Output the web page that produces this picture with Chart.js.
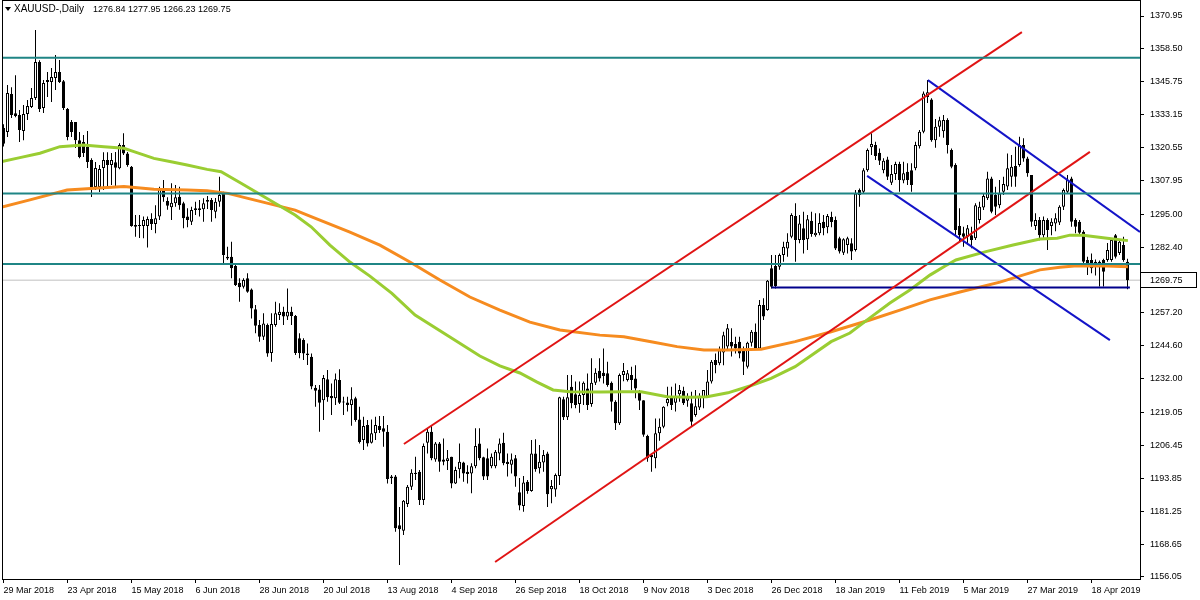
<!DOCTYPE html>
<html>
<head>
<meta charset="utf-8">
<script src="https://cdn.jsdelivr.net/npm/chart.js@4.4.1/dist/chart.umd.min.js"></script>
<style>
  html, body { margin: 0; padding: 0; background: #fff; }
  canvas { display: block; }
</style>
</head>
<body>
<canvas id="chart" width="1200" height="600"></canvas>
<script>
// header text
const symbolName = 'XAUUSD-,Daily';
const lastQuote = ['1276.84', '1277.95', '1266.23', '1269.75'];

// x axis: bar index of each date label
const dateLabels = ['29 Mar 2018', '23 Apr 2018', '15 May 2018', '6 Jun 2018', '28 Jun 2018', '20 Jul 2018',
  '13 Aug 2018', '4 Sep 2018', '26 Sep 2018', '18 Oct 2018', '9 Nov 2018', '3 Dec 2018', '26 Dec 2018',
  '18 Jan 2019', '11 Feb 2019', '5 Mar 2019', '27 Mar 2019', '18 Apr 2019'];
const dateTickBars = [0, 16, 32, 48, 64, 80, 96, 112, 128, 144, 160, 176, 192, 208, 224, 240, 256, 272];

// y axis labels
const priceTicks = [1370.95, 1358.50, 1345.75, 1333.15, 1320.55, 1307.95, 1295.00, 1282.40,
  1257.20, 1244.60, 1232.00, 1219.05, 1206.45, 1193.85, 1181.25, 1168.65, 1156.05];
const bidPrice = 1269.75;

// daily candles
const opens = [
  1328.0, 1326.5, 1341.1, 1333.7, 1333.0, 1326.9, 1333.4, 1336.1, 1339.5, 1353.3,
  1335.7, 1345.7, 1345.7, 1347.2, 1349.5, 1346.0, 1335.3, 1330.3, 1330.3, 1323.4,
  1322.7, 1320.8, 1315.8, 1305.4, 1305.4, 1312.7, 1315.8, 1313.9, 1314.9, 1312.6,
  1321.5, 1318.3, 1313.2, 1290.9, 1290.5, 1290.5, 1290.5, 1293.2, 1291.3, 1294.1,
  1304.3, 1300.1, 1297.7, 1299.2, 1301.7, 1299.2, 1294.1, 1292.1, 1297.3, 1296.6,
  1296.9, 1299.8, 1300.5, 1296.0, 1299.8, 1303.0, 1278.7, 1278.7, 1275.2, 1268.8,
  1267.2, 1270.5, 1266.2, 1258.6, 1252.6, 1248.1, 1252.6, 1241.9, 1252.6, 1256.4,
  1257.7, 1255.8, 1257.7, 1256.0, 1247.5, 1246.8, 1241.7, 1240.4, 1228.5, 1227.9,
  1223.8, 1231.8, 1225.4, 1224.5, 1231.5, 1223.3, 1222.9, 1221.9, 1224.5, 1216.4,
  1208.5, 1214.3, 1207.5, 1211.1, 1213.9, 1213.0, 1211.7, 1194.5, 1194.5, 1175.9,
  1173.8, 1184.0, 1190.6, 1195.5, 1196.4, 1185.5, 1207.5, 1211.7, 1201.1, 1207.2,
  1201.1, 1200.5, 1202.1, 1191.9, 1197.3, 1199.9, 1196.4, 1195.7, 1198.5, 1207.2,
  1201.9, 1201.5, 1198.5, 1198.5, 1203.4, 1207.5, 1200.2, 1199.0, 1201.5, 1188.5,
  1183.2, 1192.5, 1189.0, 1203.4, 1197.7, 1199.9, 1203.4, 1189.7, 1189.6, 1194.7,
  1224.1, 1217.2, 1228.9, 1226.1, 1222.3, 1225.8, 1228.3, 1222.3, 1230.5, 1235.1,
  1234.3, 1234.1, 1230.5, 1223.2, 1214.9, 1233.4, 1231.5, 1233.4, 1232.1, 1227.0,
  1223.8, 1210.1, 1202.8, 1201.5, 1211.1, 1213.6, 1222.6, 1224.9, 1222.8, 1226.1,
  1227.4, 1223.6, 1222.6, 1218.1, 1221.0, 1224.9, 1225.1, 1230.9, 1239.2, 1237.9,
  1242.0, 1244.3, 1246.1, 1245.3, 1246.2, 1243.0, 1236.6, 1245.8, 1250.0, 1243.6,
  1260.2, 1258.3, 1274.3, 1275.2, 1274.9, 1279.4, 1281.9, 1286.4, 1294.3, 1285.1,
  1289.6, 1285.4, 1292.5, 1287.0, 1287.7, 1292.1, 1290.0, 1294.0, 1292.8, 1285.8,
  1280.3, 1283.2, 1283.9, 1281.3, 1304.3, 1303.6, 1311.9, 1320.7, 1321.5, 1318.6,
  1311.9, 1316.0, 1307.1, 1310.4, 1314.3, 1307.9, 1311.3, 1311.9, 1312.6, 1321.1,
  1326.6, 1339.9, 1339.0, 1323.4, 1328.5, 1326.8, 1331.1, 1319.6, 1313.9, 1290.5,
  1287.7, 1286.4, 1287.0, 1285.8, 1292.8, 1297.6, 1301.1, 1308.7, 1302.4, 1298.5,
  1303.6, 1305.6, 1309.4, 1313.5, 1313.9, 1321.5, 1316.4, 1310.0, 1290.5, 1292.8,
  1287.0, 1292.8, 1290.5, 1291.5, 1291.8, 1297.9, 1303.6, 1308.7, 1292.8, 1292.1,
  1288.3, 1277.5, 1277.5, 1276.8, 1276.8, 1277.5, 1277.5, 1277.5, 1287.0, 1280.2,
  1283.2, 1276.84
];
const highs = [
  1329.5, 1344.5, 1343.7, 1348.3, 1334.9, 1336.9, 1338.8, 1343.4, 1365.6, 1354.0,
  1346.4, 1349.5, 1351.0, 1356.0, 1354.1, 1346.4, 1335.7, 1331.1, 1330.3, 1326.5,
  1325.4, 1326.9, 1316.5, 1315.0, 1313.9, 1318.8, 1318.8, 1318.5, 1318.9, 1322.2,
  1326.0, 1318.9, 1313.5, 1294.7, 1294.7, 1294.1, 1294.1, 1295.4, 1298.5, 1305.5,
  1308.1, 1301.5, 1306.9, 1306.2, 1305.5, 1299.8, 1297.3, 1297.9, 1299.8, 1300.5,
  1301.1, 1302.0, 1301.2, 1301.2, 1309.4, 1303.6, 1282.6, 1284.5, 1276.2, 1270.5,
  1270.5, 1272.4, 1266.6, 1260.2, 1254.5, 1257.1, 1253.2, 1257.1, 1261.5, 1260.9,
  1259.6, 1266.6, 1259.6, 1256.4, 1249.4, 1247.5, 1245.5, 1241.7, 1229.6, 1229.6,
  1233.4, 1235.3, 1230.2, 1234.0, 1235.6, 1225.1, 1225.1, 1228.7, 1225.1, 1221.3,
  1217.4, 1216.2, 1216.4, 1217.4, 1217.7, 1217.7, 1214.3, 1195.1, 1195.1, 1182.9,
  1185.5, 1191.3, 1197.3, 1202.1, 1197.0, 1207.2, 1213.0, 1214.3, 1207.8, 1207.8,
  1209.1, 1204.7, 1202.1, 1198.3, 1207.2, 1200.2, 1198.9, 1199.6, 1213.0, 1213.0,
  1202.1, 1205.3, 1203.4, 1204.7, 1209.1, 1211.3, 1203.4, 1203.4, 1202.8, 1194.0,
  1194.7, 1193.2, 1208.5, 1208.8, 1206.6, 1204.7, 1204.0, 1193.2, 1195.7, 1225.1,
  1225.1, 1233.4, 1233.4, 1230.9, 1230.9, 1230.9, 1234.0, 1239.8, 1236.0, 1239.8,
  1243.6, 1238.5, 1230.9, 1223.8, 1234.0, 1238.0, 1235.3, 1236.6, 1237.2, 1227.7,
  1223.8, 1210.5, 1203.4, 1216.8, 1216.8, 1221.5, 1228.9, 1228.9, 1230.2, 1229.6,
  1228.9, 1226.4, 1227.0, 1227.7, 1226.4, 1227.7, 1235.3, 1239.2, 1241.7, 1244.3,
  1250.0, 1253.0, 1251.3, 1248.1, 1248.1, 1244.3, 1246.2, 1250.7, 1253.2, 1262.2,
  1262.8, 1269.8, 1279.4, 1279.4, 1280.0, 1284.5, 1287.7, 1295.4, 1299.2, 1294.7,
  1296.0, 1294.7, 1296.0, 1295.4, 1295.4, 1294.7, 1295.1, 1296.0, 1294.1, 1286.4,
  1285.8, 1286.4, 1285.8, 1304.3, 1304.9, 1312.6, 1320.2, 1326.0, 1322.8, 1320.2,
  1316.5, 1317.0, 1313.9, 1315.1, 1315.1, 1315.1, 1314.5, 1314.5, 1322.8, 1327.3,
  1342.0, 1346.4, 1339.4, 1331.5, 1332.4, 1333.0, 1331.8, 1320.2, 1314.5, 1297.3,
  1290.2, 1290.9, 1290.2, 1299.2, 1299.8, 1303.0, 1311.3, 1309.4, 1305.5, 1308.1,
  1309.4, 1318.3, 1317.7, 1320.9, 1324.7, 1324.1, 1317.0, 1310.0, 1295.4, 1294.0,
  1294.1, 1293.5, 1293.5, 1295.4, 1298.5, 1304.9, 1310.0, 1309.4, 1293.5, 1292.8,
  1288.9, 1278.7, 1280.0, 1277.7, 1277.3, 1278.0, 1284.0, 1285.4, 1287.4, 1285.1,
  1286.4, 1277.95
];
const lows = [
  1321.0, 1324.6, 1331.9, 1332.2, 1322.7, 1323.4, 1331.1, 1335.7, 1338.8, 1334.2,
  1333.8, 1339.9, 1338.0, 1342.6, 1345.3, 1334.9, 1323.4, 1324.6, 1320.4, 1316.5,
  1316.9, 1312.7, 1301.6, 1304.3, 1303.5, 1304.3, 1305.4, 1306.2, 1305.6, 1312.2,
  1317.7, 1313.2, 1290.2, 1286.4, 1285.9, 1285.8, 1282.3, 1289.0, 1287.7, 1292.8,
  1299.8, 1296.7, 1292.8, 1297.9, 1296.7, 1289.6, 1290.0, 1290.9, 1294.7, 1294.1,
  1292.1, 1297.0, 1292.1, 1293.5, 1297.9, 1275.6, 1277.5, 1270.5, 1267.5, 1261.5,
  1266.6, 1264.9, 1255.1, 1249.4, 1246.2, 1246.8, 1240.4, 1238.5, 1251.9, 1254.5,
  1252.6, 1254.5, 1252.6, 1241.1, 1239.8, 1239.2, 1237.3, 1228.0, 1221.3, 1211.7,
  1216.2, 1223.2, 1218.1, 1221.9, 1222.3, 1218.1, 1219.4, 1214.0, 1215.5, 1207.2,
  1204.7, 1206.0, 1207.2, 1208.5, 1211.2, 1205.9, 1191.9, 1191.7, 1173.4, 1160.6,
  1172.1, 1182.9, 1189.4, 1193.2, 1183.6, 1183.6, 1203.4, 1200.8, 1200.2, 1196.4,
  1198.9, 1197.0, 1190.0, 1191.7, 1193.9, 1192.5, 1191.9, 1188.1, 1197.7, 1200.8,
  1193.2, 1193.2, 1197.7, 1197.7, 1200.8, 1198.9, 1194.5, 1195.7, 1190.6, 1181.6,
  1181.0, 1187.9, 1188.7, 1196.4, 1195.7, 1196.4, 1182.9, 1184.3, 1186.8, 1191.3,
  1216.2, 1216.2, 1220.7, 1220.7, 1219.0, 1221.9, 1220.0, 1221.3, 1229.6, 1230.9,
  1230.2, 1228.9, 1219.4, 1212.4, 1214.3, 1231.0, 1230.9, 1227.7, 1224.5, 1220.0,
  1209.8, 1200.2, 1196.4, 1197.7, 1208.2, 1213.0, 1221.5, 1220.0, 1219.4, 1223.2,
  1221.9, 1221.3, 1213.6, 1217.4, 1220.0, 1220.7, 1224.9, 1230.2, 1234.1, 1237.2,
  1237.2, 1243.0, 1240.5, 1241.7, 1239.8, 1233.4, 1235.9, 1244.3, 1243.0, 1243.0,
  1254.5, 1258.0, 1266.6, 1266.6, 1273.7, 1276.8, 1278.7, 1285.8, 1276.8, 1283.9,
  1280.0, 1281.3, 1286.4, 1286.4, 1287.0, 1287.0, 1287.7, 1290.0, 1281.3, 1280.0,
  1279.4, 1280.0, 1277.5, 1280.7, 1297.9, 1303.0, 1311.3, 1317.7, 1315.8, 1313.9,
  1310.7, 1308.1, 1306.2, 1308.1, 1303.6, 1306.9, 1306.2, 1303.6, 1311.9, 1320.2,
  1326.0, 1337.6, 1322.8, 1320.5, 1324.7, 1324.3, 1318.3, 1312.6, 1287.0, 1284.5,
  1282.6, 1283.2, 1282.0, 1285.1, 1291.5, 1296.6, 1300.5, 1295.4, 1294.7, 1297.3,
  1302.4, 1304.3, 1305.5, 1305.5, 1313.2, 1315.1, 1309.4, 1290.2, 1289.0, 1285.0,
  1286.0, 1281.3, 1287.0, 1288.5, 1290.9, 1296.6, 1303.0, 1290.2, 1287.7, 1287.0,
  1276.2, 1271.7, 1272.4, 1271.5, 1267.3, 1267.3, 1276.8, 1276.8, 1278.1, 1279.4,
  1276.8, 1266.23
];
const closes = [
  1322.0, 1341.5, 1333.0, 1332.6, 1327.3, 1333.4, 1336.5, 1339.5, 1353.3, 1335.3,
  1345.3, 1346.4, 1347.6, 1349.5, 1345.7, 1335.7, 1324.6, 1326.5, 1323.4, 1316.9,
  1318.5, 1315.0, 1305.4, 1312.7, 1312.3, 1315.8, 1313.9, 1315.8, 1312.8, 1321.5,
  1318.3, 1313.9, 1290.5, 1290.2, 1290.9, 1292.8, 1293.2, 1291.3, 1293.5, 1304.9,
  1301.5, 1298.3, 1299.4, 1301.5, 1298.5, 1293.5, 1292.8, 1296.6, 1296.6, 1297.3,
  1299.2, 1300.5, 1296.6, 1299.8, 1302.4, 1279.4, 1278.1, 1274.3, 1267.9, 1267.0,
  1269.8, 1265.3, 1258.9, 1252.3, 1248.1, 1253.2, 1241.7, 1253.0, 1257.1, 1257.7,
  1255.8, 1257.7, 1256.0, 1241.9, 1241.9, 1241.7, 1241.1, 1229.0, 1227.4, 1222.8,
  1232.3, 1224.9, 1224.5, 1231.8, 1222.8, 1222.9, 1221.9, 1224.1, 1216.2, 1207.8,
  1213.9, 1207.2, 1211.1, 1214.3, 1212.4, 1211.7, 1193.6, 1193.9, 1174.7, 1174.3,
  1185.3, 1190.6, 1196.0, 1196.0, 1185.5, 1206.2, 1211.7, 1201.5, 1207.2, 1200.2,
  1200.2, 1201.5, 1191.9, 1197.0, 1200.2, 1195.7, 1195.5, 1198.5, 1206.2, 1201.5,
  1194.5, 1194.5, 1202.1, 1204.0, 1207.2, 1199.6, 1199.3, 1201.1, 1194.5, 1183.4,
  1192.2, 1189.0, 1203.4, 1197.3, 1200.2, 1202.8, 1187.7, 1190.9, 1195.1, 1224.9,
  1217.2, 1224.9, 1222.6, 1221.9, 1225.8, 1230.5, 1221.9, 1230.5, 1234.3, 1232.1,
  1233.0, 1229.6, 1223.2, 1214.9, 1233.4, 1235.0, 1234.1, 1231.5, 1228.3, 1223.6,
  1210.5, 1201.5, 1201.9, 1211.1, 1213.6, 1221.3, 1224.2, 1221.9, 1225.1, 1227.7,
  1222.6, 1224.9, 1215.5, 1221.5, 1225.4, 1227.7, 1230.9, 1238.5, 1237.3, 1242.9,
  1248.7, 1251.3, 1244.3, 1243.6, 1241.7, 1238.5, 1245.8, 1250.0, 1243.6, 1260.2,
  1255.8, 1269.5, 1267.2, 1267.5, 1279.4, 1282.6, 1284.5, 1294.7, 1285.1, 1291.5,
  1285.1, 1293.1, 1287.4, 1287.9, 1291.7, 1289.6, 1294.3, 1292.0, 1281.9, 1280.7,
  1285.4, 1285.8, 1280.7, 1303.0, 1302.4, 1311.9, 1319.6, 1321.9, 1317.3, 1315.5,
  1315.5, 1309.4, 1310.4, 1314.3, 1308.1, 1310.7, 1308.1, 1306.2, 1321.5, 1326.6,
  1341.3, 1341.7, 1323.4, 1328.5, 1331.0, 1331.1, 1321.5, 1313.2, 1289.0, 1287.0,
  1286.4, 1289.6, 1285.1, 1298.5, 1297.9, 1302.0, 1308.7, 1296.0, 1297.9, 1303.0,
  1306.6, 1312.6, 1313.2, 1309.4, 1321.5, 1316.4, 1310.7, 1292.1, 1292.8, 1287.0,
  1292.8, 1289.0, 1292.1, 1293.5, 1297.9, 1304.3, 1308.1, 1292.1, 1290.2, 1287.9,
  1276.8, 1276.2, 1274.3, 1275.6, 1275.0, 1273.0, 1281.3, 1285.1, 1278.7, 1284.5,
  1277.5, 1269.75
];

// moving averages (bar index, price)
const maFastBars = [-0.4, 4.1, 9.1, 14.1, 19.9, 25.1, 30.1, 32.6, 37.6, 41.9, 45.9, 50.9, 54.4, 59.4, 64.4,
  69.4, 72.9, 76.9, 81.6, 86.6, 91.6, 97.1, 102.9, 111.6, 119.1, 124.1, 129.1, 133.4, 137.4, 141.6,
  149.1, 154.9, 159.4, 165.9, 171.9, 175.9, 181.1, 186.6, 191.9, 197.9, 206.9, 211.6, 216.6, 221.6,
  226.6, 231.6, 235.4, 238.1, 245.6, 252.4, 259.1, 263.4, 266.6, 269.9, 275.9, 281.1];
const maFastValues = [1315.2, 1316.7, 1318.4, 1320.9, 1321.5, 1320.9, 1320.3, 1319.0, 1316.4, 1315.1, 1313.9,
  1312.2, 1311.3, 1306.9, 1302.4, 1297.9, 1294.7, 1290.2, 1283.2, 1276.7, 1271.3, 1264.7, 1256.4, 1248.0,
  1240.7, 1236.9, 1234.2, 1230.7, 1227.7, 1227.0, 1226.9, 1227.0, 1227.0, 1225.1, 1224.9, 1225.1, 1226.6,
  1229.2, 1232.1, 1236.6, 1246.2, 1249.5, 1255.3, 1261.0, 1266.0, 1271.7, 1275.2, 1277.5, 1280.7, 1283.2,
  1285.5, 1285.8, 1287.0, 1287.0, 1285.8, 1284.9];
const maSlowBars = [-0.4, 6.6, 15.9, 24.9, 30.1, 37.6, 45.9, 50.9, 56.1, 61.1, 67.9, 72.9, 76.9, 86.6, 94.1,
  101.6, 109.1, 116.6, 124.1, 131.6, 139.1, 149.1, 155.1, 161.9, 168.4, 175.1, 181.1, 189.4, 197.9, 206.9,
  216.6, 224.1, 231.6, 239.1, 249.1, 259.1, 264.1, 268.4, 275.9, 281.1];
const maSlowValues = [1297.8, 1300.5, 1304.3, 1305.2, 1305.6, 1304.6, 1304.3, 1304.0, 1303.0, 1301.1, 1298.5,
  1296.6, 1294.1, 1288.2, 1283.2, 1276.7, 1269.8, 1263.3, 1258.3, 1253.7, 1250.7, 1248.7, 1248.1, 1246.2,
  1244.3, 1243.0, 1243.0, 1243.3, 1246.2, 1250.0, 1254.5, 1258.3, 1262.2, 1265.2, 1269.0, 1273.7, 1274.7,
  1275.3, 1275.2, 1274.9];

// drawn objects: horizontal levels and trend lines (bar index, price)
const levels = [1354.98, 1302.95, 1275.94];
const supportLine = [[192, 1266.9], [281.6, 1266.9]];
const redUpper = [[100.1, 1207.0], [254.6, 1364.8]];
const redLower = [[122.9, 1161.8], [271.6, 1318.9]];
const blueUpper = [[231.1, 1346.4], [284.1, 1288.2]];
const blueLower = [[215.9, 1309.7], [276.6, 1246.8]];

const xMin = -0.375, xMax = 284.125;
const yMin = 1155.28, yMax = 1377.08;
const family = '"Liberation Sans", Arial, sans-serif';
const font = { family, size: 9 };

const bodies = opens.map((o, i) => ({ x: i, y: [o, closes[i]] }));
const wicks = opens.map((o, i) => ({ x: i, y: [lows[i], highs[i]] }));
const bodyFill = opens.map((o, i) => (closes[i] >= o ? '#ffffff' : '#000000'));

const pts = (list) => list.map((p) => ({ x: p[0], y: p[1] }));
const line = (data, color, width, order) => ({
  type: 'line', data, borderColor: color, borderWidth: width,
  pointRadius: 0, pointHoverRadius: 0, fill: false, tension: 0, order,
});

const datasets = [];
levels.forEach((v) => datasets.push(line(pts([[xMin, v], [xMax, v]]), '#1f8585', 2, 0)));
datasets.push(line(pts(redUpper), '#e01414', 2, 0));
datasets.push(line(pts(redLower), '#e01414', 2, 0));
datasets.push(line(pts(blueUpper), '#1414c8', 2, 0));
datasets.push(line(pts(blueLower), '#1414c8', 2, 0));
datasets.push(line(pts(supportLine), '#00008c', 2, 0));
datasets.push(line(maFastBars.map((b, i) => ({ x: b, y: maFastValues[i] })), '#9acd32', 3, 1));
datasets.push(line(maSlowBars.map((b, i) => ({ x: b, y: maSlowValues[i] })), '#f68b1f', 3, 1));
datasets.push({
  type: 'bar', data: bodies, backgroundColor: bodyFill, borderColor: '#000000', borderWidth: 1,
  borderSkipped: false, barThickness: 3, grouped: false, inflateAmount: 0, minBarLength: 1, order: 2,
});
datasets.push({
  type: 'bar', data: wicks, backgroundColor: '#000000', borderWidth: 0,
  barThickness: 1, grouped: false, inflateAmount: 0, minBarLength: 1, order: 3,
});
datasets.push(line(pts([[xMin, bidPrice], [xMax, bidPrice]]), '#c0c0c0', 1, 4));

// frame, bid price box and the header line
const mt4Frame = {
  id: 'mt4Frame',
  afterDraw(chart) {
    const { ctx, chartArea: a, scales: { y } } = chart;
    ctx.save();
    ctx.strokeStyle = '#000';
    ctx.lineWidth = 1;
    ctx.strokeRect(a.left + 0.5, a.top + 0.5, a.right - a.left, a.bottom - a.top);

    const by = Math.round(y.getPixelForValue(bidPrice));
    ctx.fillStyle = '#fff';
    ctx.fillRect(a.right + 1, by - 7, 55, 14);
    ctx.strokeRect(a.right + 0.5, by - 7.5, 56, 15);
    ctx.fillStyle = '#000';
    ctx.font = `9px ${family}`;
    ctx.textBaseline = 'middle';
    ctx.fillText(bidPrice.toFixed(2), a.right + 10, by + 0.5);

    ctx.beginPath();
    ctx.moveTo(5, 7);
    ctx.lineTo(11, 7);
    ctx.lineTo(8, 11);
    ctx.closePath();
    ctx.fill();
    ctx.fillText(lastQuote.join(' '), 93, 9.5);
    ctx.font = `10px ${family}`;
    ctx.fillText(symbolName, 14, 9.5);
    ctx.restore();
  },
};

new Chart(document.getElementById('chart'), {
  type: 'bar',
  data: { datasets },
  plugins: [mt4Frame],
  options: {
    responsive: false,
    animation: false,
    devicePixelRatio: 1,
    layout: { padding: { left: 2, top: 0, right: 0, bottom: 0 } },
    plugins: { legend: { display: false }, tooltip: { enabled: false } },
    scales: {
      x: {
        type: 'linear',
        min: xMin,
        max: xMax,
        offset: false,
        afterFit: (s) => { s.height = 21; s.paddingLeft = 0; s.paddingRight = 0; },
        afterBuildTicks: (s) => { s.ticks = dateTickBars.map((v) => ({ value: v })); },
        ticks: {
          autoSkip: false, maxRotation: 0, align: 'start', padding: 2, color: '#000', font,
          callback: (v, i) => dateLabels[i],
        },
        grid: { offset: false, drawOnChartArea: false, drawTicks: true, tickLength: 4, color: '#000' },
        border: { display: false },
      },
      y: {
        position: 'right',
        min: yMin,
        max: yMax,
        afterFit: (s) => { s.width = 60; s.paddingTop = 0; s.paddingBottom = 0; },
        afterBuildTicks: (s) => { s.ticks = priceTicks.map((v) => ({ value: v })); },
        ticks: { autoSkip: false, padding: 6, color: '#000', font, callback: (v) => v.toFixed(2) },
        grid: { drawOnChartArea: false, drawTicks: true, tickLength: 4, color: '#000' },
        border: { display: false },
      },
    },
  },
});
</script>
</body>
</html>
